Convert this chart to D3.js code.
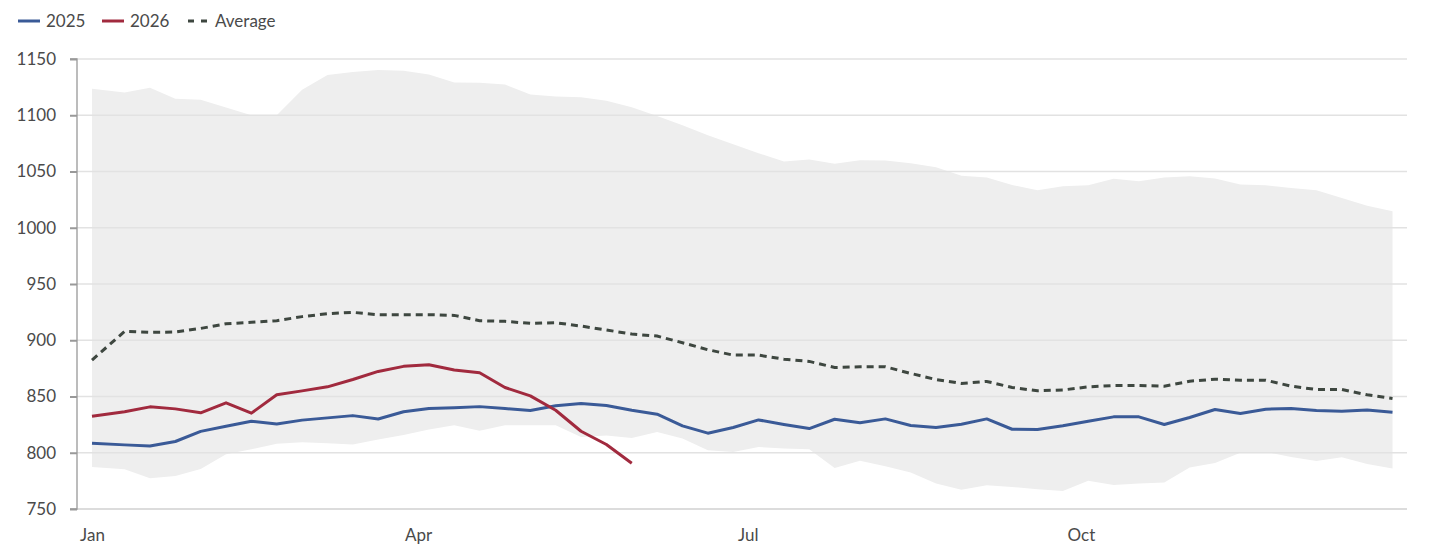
<!DOCTYPE html>
<html>
<head>
<meta charset="utf-8">
<script src="https://cdn.jsdelivr.net/npm/d3@7"></script>
<style>
    body { margin: 0; background: #fff; }
    svg text { font-family: Lato, "Open Sans", sans-serif; fill: #4a4a4a; }
</style>
</head>
<body>
<div class="graph-container"></div>
<script>
// weekly observation dates (Jan 1, then every Friday)
const weekDates = [
    '01-01', '01-10', '01-17', '01-24', '01-31', '02-07', '02-14', '02-21', '02-28',
    '03-07', '03-14', '03-21', '03-28', '04-04', '04-11', '04-18', '04-25',
    '05-02', '05-09', '05-16', '05-23', '05-30', '06-06', '06-13', '06-20', '06-27',
    '07-04', '07-11', '07-18', '07-25', '08-01', '08-08', '08-15', '08-22', '08-29',
    '09-05', '09-12', '09-19', '09-26', '10-03', '10-10', '10-17', '10-24', '10-31',
    '11-07', '11-14', '11-21', '11-28', '12-05', '12-12', '12-19', '12-26'
];
const values2025 = [
    808.5, 807, 806, 810, 819, 823.5, 828, 825.5, 829, 831, 833, 830, 836.5,
    839.3, 840, 841, 839.3, 837.5, 841.7, 843.8, 842, 837.8, 834.3, 823.9, 817.4,
    822.4, 829.2, 825.1, 821.5, 829.8, 826.6, 830.1, 824.2, 822.4, 825.4, 830.1,
    820.9, 820.6, 824, 828, 831.9, 831.9, 825.1, 831.3, 838.4, 834.9, 838.7,
    839.3, 837.5, 836.9, 838.1, 836
];
const values2026 = [
    832.5, 836.4, 840.8, 839, 835.5, 844.4, 835.2, 851.5, 855, 858.6, 865.1,
    872.3, 876.8, 878.2, 873.5, 871.1, 858, 850.6, 837.8, 819.1, 807.3, 790.7
];
const averageValues = [
    882.4, 907.9, 907, 907.3, 910.5, 914.7, 915.9, 917.4, 921, 923.6, 924.8, 922.7,
    922.7, 922.7, 922.1, 917.4, 916.8, 915, 915.6, 912.6, 909.1, 905.5, 903.7,
    897.8, 891.6, 886.8, 886.8, 883.2, 881.2, 875.8, 876.4, 876.4, 870.5, 865.1,
    861.6, 863.4, 858, 855.1, 855.8, 858.6, 859.8, 859.8, 859.2, 863.6, 865.4,
    864.5, 864.5, 859.2, 856.2, 856.2, 851.5, 848.2
];
const rangeMin = [
    787.4, 785.3, 777.3, 779.4, 785.6, 798.7, 803.1, 807.9, 809.4, 808.5, 807.3,
    811.8, 815.8, 820.6, 824.5, 819.5, 824.5, 824.5, 824.5, 814.1, 815.3, 813.2,
    818.5, 812.6, 802.2, 800.7, 805.2, 803.7, 803.1, 786.5, 793, 788, 782.4, 772.6,
    767.2, 771.1, 769.6, 767.5, 766, 775.2, 771.4, 772.6, 773.5, 786.8, 791, 799.9,
    800.7, 796.3, 792.7, 796, 790.1, 785.9
];
const rangeMax = [
    1123.5, 1120.2, 1124.4, 1114.6, 1113.7, 1107, 1100, 1100, 1122.6, 1135.7,
    1138.4, 1140.2, 1139.6, 1136.3, 1129.2, 1128.9, 1127.4, 1118.4, 1116.6, 1116,
    1113, 1107.1, 1099.4, 1091.1, 1082.2, 1074.3, 1066.3, 1058.9, 1060.7, 1056.8,
    1060.1, 1059.8, 1057.4, 1053.8, 1046.2, 1044.6, 1038.1, 1033.3, 1036.9, 1037.8,
    1043.5, 1041.4, 1044.6, 1045.8, 1043.8, 1038.4, 1037.8, 1035.4, 1033.3, 1026.5,
    1019.6, 1014.6
];
const yTicks = [750, 800, 850, 900, 950, 1000, 1050, 1100, 1150];
const xTickDates = ['01-01', '04-01', '07-01', '10-01'];
const xTickLabels = ['Jan', 'Apr', 'Jul', 'Oct'];
const legendItems = [
    { label: '2025', color: '#3a5a97', dash: null },
    { label: '2026', color: '#a12a3e', dash: null },
    { label: 'Average', color: '#3e4740', dash: '6,7' }
];

// graph constants
const w = 1429;
const h = 544;
const plotLeft = 77;
const plotRight = 1407;
const plotTop = 59;
const plotBottom = 509;

const parseDate = s => d3.timeParse('%Y-%m-%d')('2025-' + s);
const dates = weekDates.map(parseDate);

const svg = d3.select('.graph-container')
    .append('svg')
    .attr('width', w)
    .attr('height', h);

// scales
const xScale = d3.scaleTime()
    .domain(d3.extent(dates))
    .range([92, 1392.5]);
const yScale = d3.scaleLinear()
    .domain([750, 1150])
    .range([plotBottom, plotTop]);

// min / max band
const area = d3.area()
    .x((d, i) => xScale(dates[i]))
    .y0((d, i) => yScale(rangeMin[i]))
    .y1(d => yScale(d));
svg.append('path')
    .datum(rangeMax)
    .attr('fill', '#eeeeee')
    .attr('d', area);

// grid lines
svg.append('g')
    .selectAll('line')
    .data(yTicks)
    .enter()
    .append('line')
    .attr('x1', plotLeft)
    .attr('x2', plotRight)
    .attr('y1', d => yScale(d))
    .attr('y2', d => yScale(d))
    .attr('stroke', d => d === 750 ? '#dcdcdc' : '#e2e2e2')
    .attr('stroke-width', d => d === 750 ? 2 : 1.3);

// y axis
const yAxis = d3.axisLeft(yScale)
    .tickValues(yTicks)
    .tickFormat(d3.format('d'))
    .tickSize(7)
    .tickPadding(14);
const yG = svg.append('g')
    .attr('transform', `translate(${plotLeft}, 0)`)
    .call(yAxis);
yG.select('.domain').attr('stroke', '#999').attr('stroke-width', 1.3).attr('d', `M-7,${plotTop}H0V${plotBottom}H-7`);
yG.selectAll('.tick line').attr('stroke', '#999').attr('stroke-width', 2);
yG.selectAll('.tick text').attr('font-size', 17).attr('fill', '#4a4a4a');

// x axis (labels only)
const xAxis = d3.axisBottom(xScale)
    .tickValues(xTickDates.map(parseDate))
    .tickFormat((d, i) => xTickLabels[i])
    .tickSize(0)
    .tickPadding(20);
const xG = svg.append('g')
    .attr('transform', `translate(0, ${plotBottom})`)
    .call(xAxis);
xG.select('.domain').remove();
xG.selectAll('.tick text').attr('font-size', 17).attr('fill', '#4a4a4a');

// lines
const line = d3.line()
    .x((d, i) => xScale(dates[i]))
    .y(d => yScale(d));
svg.append('path')
    .datum(averageValues)
    .attr('fill', 'none')
    .attr('stroke', legendItems[2].color)
    .attr('stroke-width', 3)
    .attr('stroke-dasharray', '7,5')
    .attr('d', line);
svg.append('path')
    .datum(values2025)
    .attr('fill', 'none')
    .attr('stroke', legendItems[0].color)
    .attr('stroke-width', 3)
    .attr('stroke-linejoin', 'round')
    .attr('d', line);
svg.append('path')
    .datum(values2026)
    .attr('fill', 'none')
    .attr('stroke', legendItems[1].color)
    .attr('stroke-width', 3)
    .attr('stroke-linejoin', 'round')
    .attr('d', line);

// legend
const legendX = [18, 102, 188];
const legend = svg.append('g')
    .selectAll('g')
    .data(legendItems)
    .enter()
    .append('g')
    .attr('transform', (d, i) => `translate(${legendX[i]}, 21)`);
legend.append('line')
    .attr('x1', 0)
    .attr('x2', d => d.dash ? 20 : 22)
    .attr('stroke', d => d.color)
    .attr('stroke-width', 3)
    .attr('stroke-dasharray', d => d.dash);
legend.append('text')
    .text(d => d.label)
    .attr('x', d => d.dash ? 27 : 28)
    .attr('y', 6)
    .attr('font-size', 17);
</script>
</body>
</html>
